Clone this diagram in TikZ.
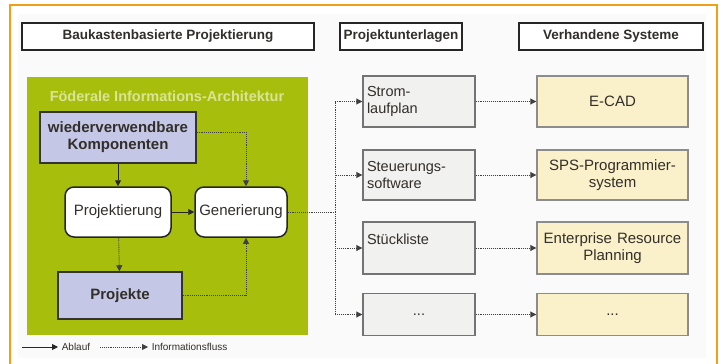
\documentclass[tikz,border=0pt]{standalone}
\usepackage{fontspec}
\setmainfont{Liberation Sans}
\usetikzlibrary{arrows.meta,positioning,calc}
\definecolor{frameOrange}{RGB}{240,160,20}
\definecolor{panelGreen}{RGB}{168,190,12}
\definecolor{panelTitle}{RGB}{218,228,150}
\definecolor{compBlue}{RGB}{196,200,230}
\definecolor{sysYellow}{RGB}{250,241,202}
\definecolor{docGray}{RGB}{241,241,239}
\definecolor{inkGray}{RGB}{50,46,42}

\begin{document}
\begin{tikzpicture}[x=1pt, y=-1pt, every node/.style={font=\fontsize{14}{16}\selectfont, text=inkGray},
  header/.style={draw=black!85, line width=1.6pt, fill=white, minimum height=27pt, inner sep=1pt,
    font=\fontsize{13.5}{15}\selectfont\bfseries},
  bluebox/.style={draw=black!80, line width=1.5pt, fill=compBlue, inner sep=1pt, align=center,
    font=\fontsize{15}{17}\selectfont\bfseries},
  stepbox/.style={draw=black!85, line width=1.5pt, fill=white, rounded corners=9pt,
    minimum width=#1, minimum height=50pt, inner sep=1pt, font=\fontsize{15}{17}\selectfont},
  docbox/.style={draw=black!55, line width=1.4pt, fill=docGray, minimum width=112pt,
    text width=104pt, align=left, inner sep=3pt, font=\fontsize{14.5}{17}\selectfont},
  sysbox/.style={draw=black!45, line width=1.4pt, fill=sysYellow, minimum width=151pt,
    text width=149pt, align=center, inner sep=1pt, font=\fontsize{15}{17}\selectfont},
  flow/.style={-{Triangle[length=6pt,width=6pt]}, line width=0.9pt, black!85},
  info/.style={-{Triangle[length=6pt,width=6pt]}, line width=0.9pt, black!75, densely dotted}]
  \useasboundingbox (0,0) rectangle (723,364);
  % Background and frame
  \fill[black!2] (18,14) rectangle (706,358);
  \draw[frameOrange, line width=2pt] (10,364) -- (10,5) -- (717,5) -- (717,364);
  % Column headers
  \node[header, minimum width=292pt] (hBau) at (168,36.5) {Baukastenbasierte Projektierung};
  \node[header, minimum width=122pt] (hPro) at (401,36.5) {Projektunterlagen};
  \node[header, minimum width=184pt] (hVer) at (611,36.5) {Verhandene Systeme};
  % Federated architecture panel
  \node[fill=panelGreen, minimum width=281pt, minimum height=258pt, inner sep=0pt] (panel) at (167.5,206) {};
  \node[text=panelTitle, font=\fontsize{14.5}{16}\selectfont\bfseries] (ptitle) at (167,96) {Föderale Informations-Architektur};
  \node[bluebox, minimum width=156pt, minimum height=51pt] (komp) at (118,137.5) {wiederverwendbare\\Komponenten};
  \node[stepbox=106pt] (proj) at (118,212) {Projektierung};
  \node[stepbox=92pt] (gen) at (241,212) {Generierung};
  \node[bluebox, minimum width=124pt, minimum height=47pt] (pjk) at (120,295.5) {Projekte};
  % Project documents
  \node[docbox, minimum height=51pt] (strom) at (419,101.5) {Strom-\\laufplan};
  \node[docbox, minimum height=50pt] (steu) at (419,175) {Steuerungs-\\software};
  \node[docbox, minimum height=52pt] (stueck) at (419,248) {Stückliste\\\phantom{Stückliste}};
  \node[docbox, minimum height=42pt, align=center] (more) at (419,314.5) {...};
  % Existing systems
  \node[sysbox, minimum height=51pt] (ecad) at (612.5,101.5) {E-CAD};
  \node[sysbox, minimum height=50pt] (sps) at (612.5,175) {SPS-Programmier-\\system};
  \node[sysbox, minimum height=52pt] (erp) at (612.5,248) {Enterprise Resource\\Planning};
  \node[sysbox, minimum height=42pt] (sysmore) at (612.5,314.5) {...};
  % Arrows inside the panel
  \draw[flow] (komp) -- (proj);
  \draw[flow] (proj) -- (gen);
  \draw[info] (proj) -- (pjk);
  \draw[info] (komp.east |- 0,132) -| ($(gen.north)+(5,0)$);
  \draw[info] (pjk.east) -| ($(gen.south)+(5,0)$);
  % Distribution bus
  \coordinate (bus) at (335,212);
  \draw[info, -] (gen.east) -- (bus);
  \foreach \d in {strom,steu,stueck,more}
    \draw[info] (bus) |- (\d.west);
  \draw[info] (strom) -- (ecad);
  \draw[info] (steu) -- (sps);
  \draw[info] (stueck) -- (erp);
  \draw[info] (more) -- (sysmore);
  % Legend
  \coordinate (la) at (22,347);
  \coordinate (lb) at (100,347);
  \draw[flow] (la) -- ++(36,0) node[right, font=\fontsize{10}{12}\selectfont] (lAbl) {Ablauf};
  \draw[info] (lb) -- ++(48,0) node[right, font=\fontsize{10}{12}\selectfont] (lInf) {Informationsfluss};
\end{tikzpicture}
\end{document}
